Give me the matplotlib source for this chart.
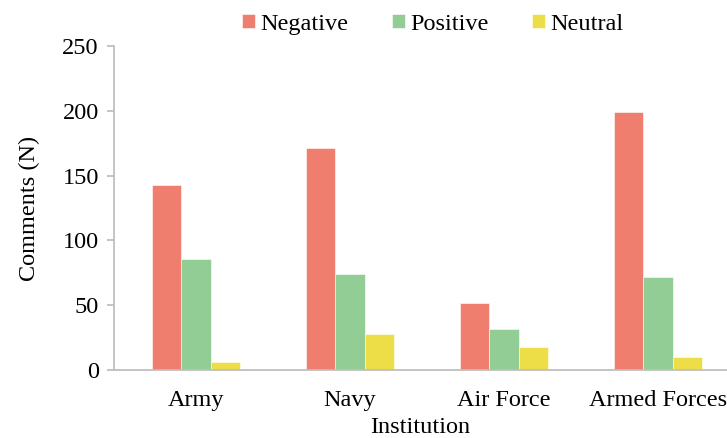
import numpy as np
import matplotlib
matplotlib.use('Agg')
import matplotlib.pyplot as plt

plt.rcParams['font.family'] = ['Liberation Serif', 'DejaVu Serif']

institutions = ['Army', 'Navy', 'Air Force', 'Armed Forces']
negative = [143, 171, 52, 199]
positive = [86, 74, 32, 72]
neutral = [6, 28, 18, 10]

series = [('Negative', negative, '#F07E6E'),
          ('Positive', positive, '#92CD96'),
          ('Neutral', neutral, '#EDDD46')]

fs = 17.5

fig = plt.figure(figsize=(7.27, 4.38), dpi=100)
ax = fig.add_axes([0.157, 0.155, 0.843, 0.740])

x = np.arange(len(institutions))
w = 0.192
for i, (name, vals, col) in enumerate(series):
    ax.bar(x + (i - 1) * w, vals, width=w, color=col, label=name,
           edgecolor='white', linewidth=0.4)

ax.set_xlim(-0.532, 3.448)
ax.set_ylim(0, 250)
ax.set_yticks(range(0, 251, 50))
ax.set_xticks(x)
ax.set_xticklabels(institutions)

for s in ['top', 'right']:
    ax.spines[s].set_visible(False)
for s in ['left', 'bottom']:
    ax.spines[s].set_color('#BFBFBF')
    ax.spines[s].set_linewidth(1.3)

ax.tick_params(axis='y', colors='#BFBFBF', length=5, width=1.3, labelcolor='black',
               labelsize=fs, pad=6)
ax.tick_params(axis='x', length=0, labelsize=fs, pad=14)

ax.set_ylabel('Comments (N)', fontsize=fs, labelpad=16)
ax.set_xlabel('Institution', fontsize=fs, labelpad=5)

fig.legend(loc='center', bbox_to_anchor=(0.595, 0.945), ncol=3, frameon=False,
           fontsize=fs, handlelength=0.55, handleheight=0.55, handletextpad=0.2,
           columnspacing=1.8)

fig.savefig('out.png', dpi=100)
